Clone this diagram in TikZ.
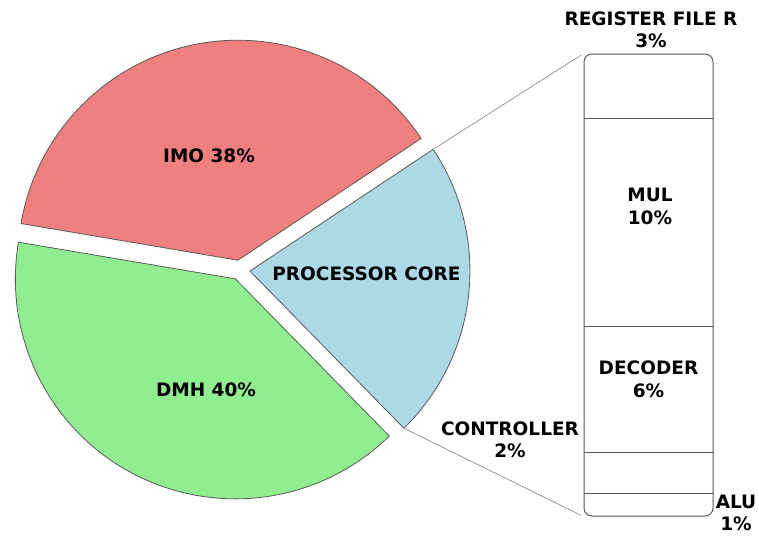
\documentclass[tikz,border=0pt]{standalone}
\usepackage{fontspec}
\setmainfont{DejaVu Sans}
\usetikzlibrary{calc}
\definecolor{imocol}{RGB}{240,128,128}
\definecolor{dmhcol}{RGB}{144,238,144}
\definecolor{pccol}{RGB}{173,216,230}
\begin{document}
\begin{tikzpicture}[x=1pt,y=1pt,
  wedge/.style={draw=black!65, line width=0.8pt, line join=round},
  lbl/.style={font=\bfseries\fontsize{18.5}{22.5}\selectfont, align=center, inner sep=0pt, text=black},
  zoomline/.style={draw=black!45, line width=0.7pt},
  divider/.style={draw=black!65, line width=1pt},
  stackbox/.style={draw=black!65, line width=1pt, rounded corners=8pt, fill=white, minimum width=129pt, minimum height=462pt, inner sep=0pt}]
\useasboundingbox (0,0) rectangle (759,-536);
\coordinate (c) at (240,-270);
\coordinate (imoC) at ($(c)+(102:10)$);
\coordinate (dmhC) at ($(c)+(242.4:10)$);
\coordinate (pcC) at ($(c)+(354:10)$);
\coordinate (pcTop) at ($(pcC)+(33.6:220)$);
\coordinate (pcBot) at ($(pcC)+(314.4:220)$);
% wedges
\filldraw[wedge, fill=imocol] (imoC) -- ++(33.6:220) arc[start angle=33.6, end angle=170.4, radius=220] -- cycle;
\filldraw[wedge, fill=dmhcol] (dmhC) -- ++(170.4:220) arc[start angle=170.4, end angle=314.4, radius=220] -- cycle;
\filldraw[wedge, fill=pccol] (pcC) -- (pcBot) arc[start angle=314.4, end angle=393.6, radius=220] -- cycle;
\node[lbl] (imo) at (209,-156) {IMO 38\%};
\node[lbl] (dmh) at (206,-390) {DMH 40\%};
\node[lbl] (pc) at (366.5,-274) {PROCESSOR CORE};
% stack
\node[stackbox] (stack) at (648.5,-285) {};
\draw[zoomline, shorten >=2.5pt] (pcTop) -- (stack.north west);
\draw[zoomline, shorten >=2.5pt] (pcBot) -- (stack.south west);
\foreach \yy/\nm in {118/a,326/b,452/c,493/d}{
  \coordinate (dl\nm) at (stack.west |- 0,-\yy);
  \coordinate (dr\nm) at (stack.east |- 0,-\yy);
  \draw[divider] (dl\nm) -- (dr\nm);
}
\node[lbl] (reg) at (651,-30) {REGISTER FILE R\\3\%};
\node[lbl] (mul) at (650,-206.5) {MUL\\10\%};
\node[lbl] (dec) at (648.5,-379.5) {DECODER\\6\%};
\node[lbl] (ctrl) at (510,-440) {CONTROLLER\\2\%};
\node[lbl] (alu) at (736,-513) {ALU\\1\%};
\end{tikzpicture}
\end{document}
